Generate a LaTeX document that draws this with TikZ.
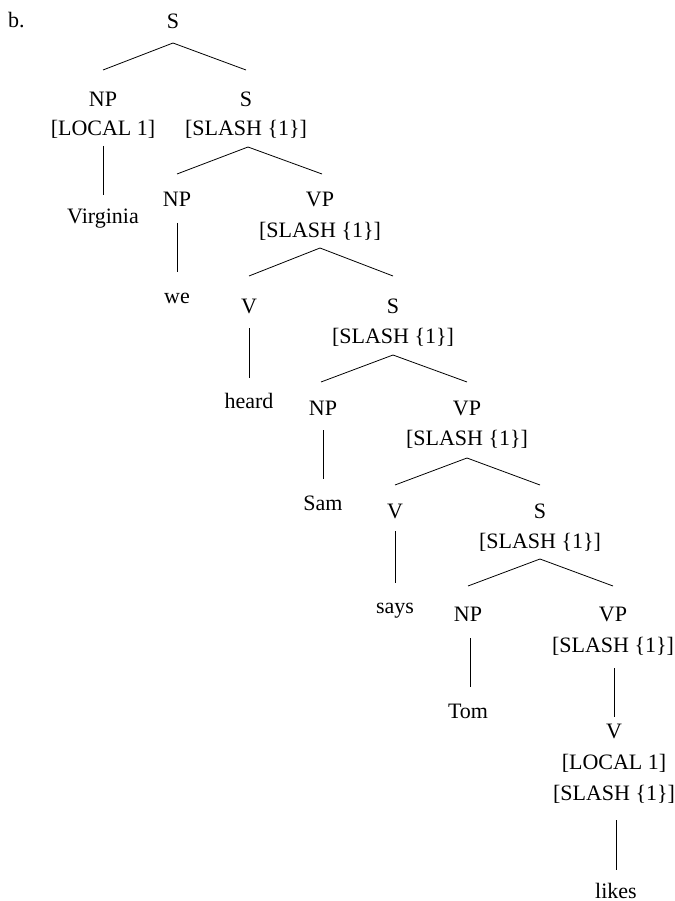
\documentclass[tikz,border=0pt]{standalone}
\usepackage{fontspec}
\setmainfont{Liberation Serif}
\usetikzlibrary{calc}
\begin{document}
\begin{tikzpicture}[x=1pt,y=-1pt,
  lab/.style={anchor=base,inner sep=0pt,font=\fontsize{22}{26}\selectfont},
  edge/.style={line width=0.8pt}]
\useasboundingbox (0,0) rectangle (674,901);
\node[lab,anchor=base west] (b) at (8,28) {b.};
% nodes
\node[lab] (r) at (173,29) {S};
\node[lab] (np1) at (103,107) {NP};
\node[lab] (np1f) at (103,136) {[LOCAL 1]};
\node[lab] (s1) at (246,107) {S};
\node[lab] (s1f) at (246,136) {[SLASH \{1\}]};
\node[lab] (virg) at (103,223) {Virginia};
\node[lab] (np2) at (177,207) {NP};
\node[lab] (vp2) at (320,207) {VP};
\node[lab] (vp2f) at (320,237) {[SLASH \{1\}]};
\node[lab] (we) at (177,303) {we};
\node[lab] (v3) at (249,313) {V};
\node[lab] (s3) at (393,313) {S};
\node[lab] (s3f) at (393,343) {[SLASH \{1\}]};
\node[lab] (heard) at (249,408) {heard};
\node[lab] (np4) at (323,415) {NP};
\node[lab] (vp4) at (467,415) {VP};
\node[lab] (vp4f) at (467,445) {[SLASH \{1\}]};
\node[lab] (sam) at (323,510) {Sam};
\node[lab] (v5) at (395,518) {V};
\node[lab] (s5) at (540,518) {S};
\node[lab] (s5f) at (540,548) {[SLASH \{1\}]};
\node[lab] (says) at (395,613) {says};
\node[lab] (np6) at (468,621) {NP};
\node[lab] (vp6) at (613,621) {VP};
\node[lab] (vp6f) at (613,652) {[SLASH \{1\}]};
\node[lab] (tom) at (468,718) {Tom};
\node[lab] (v7) at (614,738) {V};
\node[lab] (v7f) at (614,769) {[LOCAL 1]};
\node[lab] (v7g) at (614,800) {[SLASH \{1\}]};
\node[lab] (likes) at (616,898) {likes};
% branching edges
\draw[edge] ($(r.base)+(0,14)$) -- ($(np1.base)+(0,-37)$);
\draw[edge] ($(r.base)+(0,14)$) -- ($(s1.base)+(0,-37)$);
\draw[edge] ($(s1f.base)+(2,11)$) -- ($(np2.base)+(0,-33)$);
\draw[edge] ($(s1f.base)+(2,11)$) -- ($(vp2.base)+(2,-33)$);
\draw[edge] ($(vp2f.base)+(0,11)$) -- ($(v3.base)+(0,-37)$);
\draw[edge] ($(vp2f.base)+(0,11)$) -- ($(s3.base)+(0,-37)$);
\draw[edge] ($(s3f.base)+(0,12)$) -- ($(np4.base)+(-2,-33)$);
\draw[edge] ($(s3f.base)+(0,12)$) -- ($(vp4.base)+(0,-33)$);
\draw[edge] ($(vp4f.base)+(0,13)$) -- ($(v5.base)+(0,-33)$);
\draw[edge] ($(vp4f.base)+(0,13)$) -- ($(s5.base)+(0,-33)$);
\draw[edge] ($(s5f.base)+(0,11)$) -- ($(np6.base)+(0,-35)$);
\draw[edge] ($(s5f.base)+(0,11)$) -- ($(vp6.base)+(0,-35)$);
% unary edges
\draw[edge] ($(np1f.base)+(0,10)$) -- ($(np1f.base |- virg.base)+(0,-28)$);
\draw[edge] ($(np2.base)+(0,16)$) -- ($(np2.base |- we.base)+(0,-31)$);
\draw[edge] ($(v3.base)+(0,15)$) -- ($(v3.base |- heard.base)+(0,-30)$);
\draw[edge] ($(np4.base)+(0,15)$) -- ($(np4.base |- sam.base)+(0,-31)$);
\draw[edge] ($(v5.base)+(0,13)$) -- ($(v5.base |- says.base)+(0,-30)$);
\draw[edge] ($(np6.base)+(2,17)$) -- ($(np6.base |- tom.base)+(2,-31)$);
\draw[edge] ($(vp6f.base)+(1,16)$) -- ($(vp6f.base |- v7.base)+(1,-21)$);
\draw[edge] ($(v7g.base)+(2,20)$) -- ($(v7g.base |- likes.base)+(2,-28)$);
\end{tikzpicture}
\end{document}
